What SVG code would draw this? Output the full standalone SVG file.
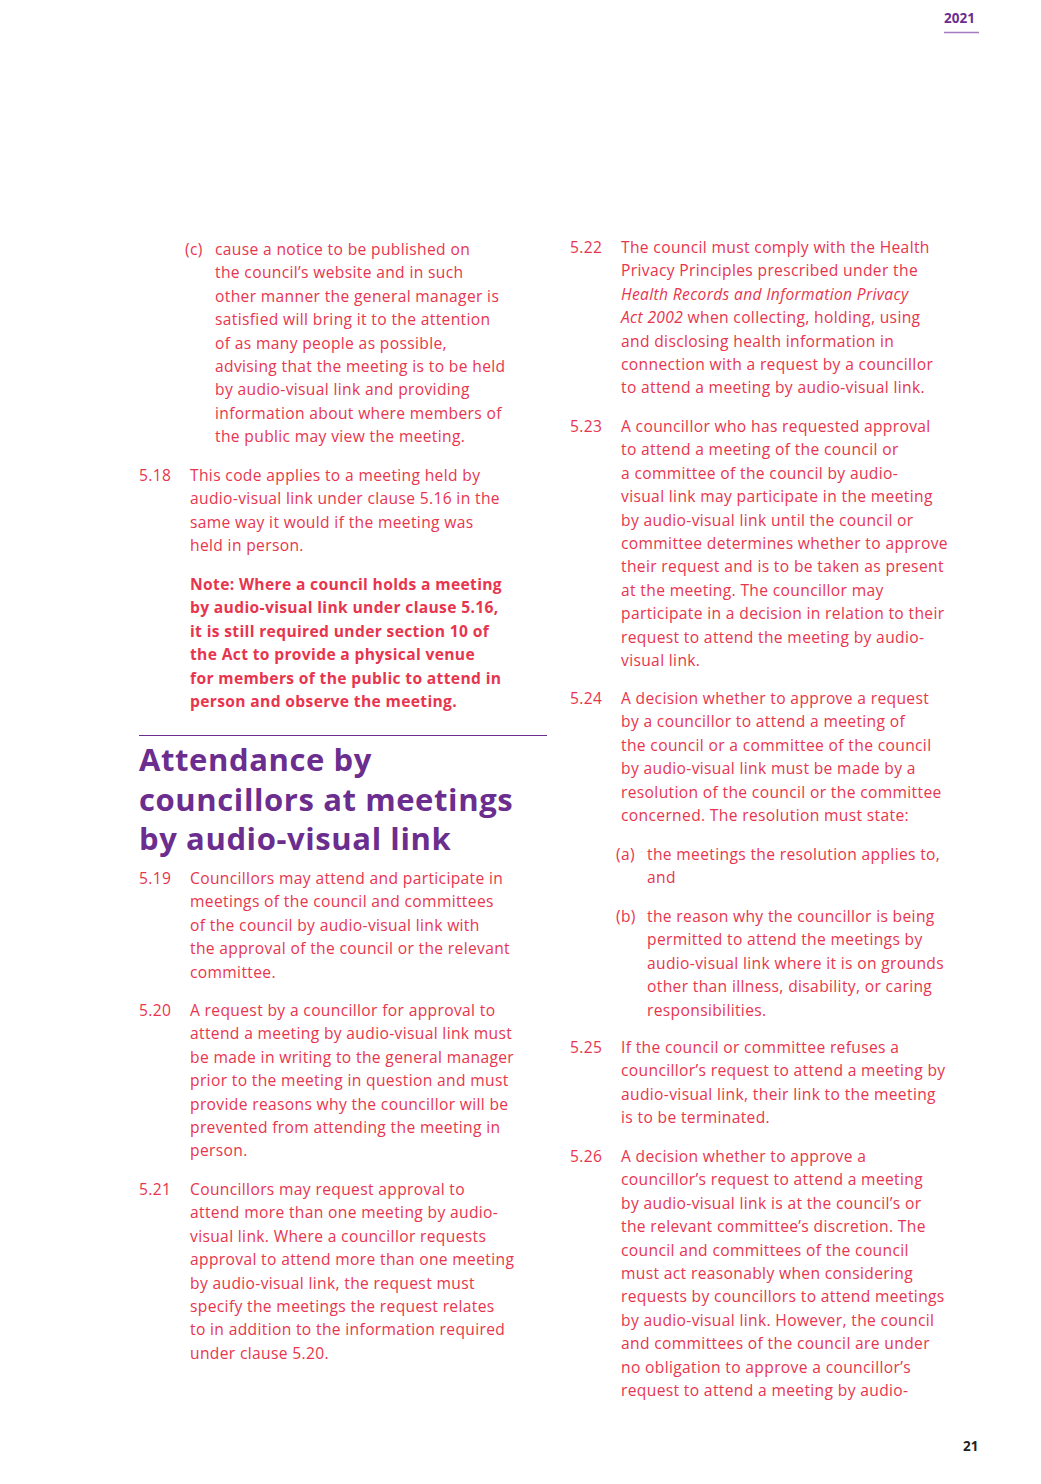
<svg xmlns="http://www.w3.org/2000/svg" width="1041" height="1484" viewBox="0 0 1041 1484">
<style>
.b{font-family:"Open Sans","Liberation Sans",sans-serif;font-size:15.6px;fill:#e8354e;letter-spacing:0.35px}
.n{font-weight:bold}
.h{font-family:"Open Sans","Liberation Sans",sans-serif;font-size:31px;font-weight:bold;fill:#6b2e8f;letter-spacing:0.6px}
</style>
<rect width="1041" height="1484" fill="#fff"/>
<g id="header">
<text x="944" y="23" font-family="Open Sans, Liberation Sans, sans-serif" font-size="13.5" font-weight="bold" fill="#6b2e8f">2021</text>
<line x1="944" y1="32.5" x2="979" y2="32.5" stroke="#a37cc0" stroke-width="1.5"/>
</g>
<g id="left" class="b">
<text class="b" x="185" y="255">(c)</text>
<text class="b"><tspan x="215" y="255">cause a notice to be published on</tspan><tspan x="215" dy="23.4">the council’s website and in such</tspan><tspan x="215" dy="23.4">other manner the general manager is</tspan><tspan x="215" dy="23.4">satisfied will bring it to the attention</tspan><tspan x="215" dy="23.4">of as many people as possible,</tspan><tspan x="215" dy="23.4">advising that the meeting is to be held</tspan><tspan x="215" dy="23.4">by audio-visual link and providing</tspan><tspan x="215" dy="23.4">information about where members of</tspan><tspan x="215" dy="23.4">the public may view the meeting.</tspan></text>
<text class="b" x="139" y="481">5.18</text>
<text class="b"><tspan x="190" y="481">This code applies to a meeting held by</tspan><tspan x="190" dy="23.4">audio-visual link under clause 5.16 in the</tspan><tspan x="190" dy="23.4">same way it would if the meeting was</tspan><tspan x="190" dy="23.4">held in person.</tspan></text>
<text class="b n"><tspan x="190" y="590">Note: Where a council holds a meeting</tspan><tspan x="190" dy="23.4">by audio-visual link under clause 5.16,</tspan><tspan x="190" dy="23.4">it is still required under section 10 of</tspan><tspan x="190" dy="23.4">the Act to provide a physical venue</tspan><tspan x="190" dy="23.4">for members of the public to attend in</tspan><tspan x="190" dy="23.4">person and observe the meeting.</tspan></text>
<line x1="139" y1="735.5" x2="547" y2="735.5" stroke="#6b2e8f" stroke-width="1.2"/>
<text class="h"><tspan x="139" y="771">Attendance by</tspan><tspan x="139" dy="39.5">councillors at meetings</tspan><tspan x="139" dy="39.5">by audio-visual link</tspan></text>
<text class="b" x="139" y="884">5.19</text>
<text class="b"><tspan x="190" y="884">Councillors may attend and participate in</tspan><tspan x="190" dy="23.4">meetings of the council and committees</tspan><tspan x="190" dy="23.4">of the council by audio-visual link with</tspan><tspan x="190" dy="23.4">the approval of the council or the relevant</tspan><tspan x="190" dy="23.4">committee.</tspan></text>
<text class="b" x="139" y="1016">5.20</text>
<text class="b"><tspan x="190" y="1016">A request by a councillor for approval to</tspan><tspan x="190" dy="23.4">attend a meeting by audio-visual link must</tspan><tspan x="190" dy="23.4">be made in writing to the general manager</tspan><tspan x="190" dy="23.4">prior to the meeting in question and must</tspan><tspan x="190" dy="23.4">provide reasons why the councillor will be</tspan><tspan x="190" dy="23.4">prevented from attending the meeting in</tspan><tspan x="190" dy="23.4">person.</tspan></text>
<text class="b" x="139" y="1195">5.21</text>
<text class="b"><tspan x="190" y="1195">Councillors may request approval to</tspan><tspan x="190" dy="23.4">attend more than one meeting by audio-</tspan><tspan x="190" dy="23.4">visual link. Where a councillor requests</tspan><tspan x="190" dy="23.4">approval to attend more than one meeting</tspan><tspan x="190" dy="23.4">by audio-visual link, the request must</tspan><tspan x="190" dy="23.4">specify the meetings the request relates</tspan><tspan x="190" dy="23.4">to in addition to the information required</tspan><tspan x="190" dy="23.4">under clause 5.20.</tspan></text>
</g>
<g id="right">
<text class="b" x="570" y="253">5.22</text>
<text class="b"><tspan x="621" y="253">The council must comply with the Health</tspan><tspan x="621" dy="23.4">Privacy Principles prescribed under the</tspan><tspan x="621" dy="23.4" font-style="italic">Health Records and Information Privacy</tspan><tspan x="621" dy="23.4"><tspan font-style="italic">Act 2002</tspan> when collecting, holding, using</tspan><tspan x="621" dy="23.4">and disclosing health information in</tspan><tspan x="621" dy="23.4">connection with a request by a councillor</tspan><tspan x="621" dy="23.4">to attend a meeting by audio-visual link.</tspan></text>
<text class="b" x="570" y="432">5.23</text>
<text class="b"><tspan x="621" y="432">A councillor who has requested approval</tspan><tspan x="621" dy="23.4">to attend a meeting of the council or</tspan><tspan x="621" dy="23.4">a committee of the council by audio-</tspan><tspan x="621" dy="23.4">visual link may participate in the meeting</tspan><tspan x="621" dy="23.4">by audio-visual link until the council or</tspan><tspan x="621" dy="23.4">committee determines whether to approve</tspan><tspan x="621" dy="23.4">their request and is to be taken as present</tspan><tspan x="621" dy="23.4">at the meeting. The councillor may</tspan><tspan x="621" dy="23.4">participate in a decision in relation to their</tspan><tspan x="621" dy="23.4">request to attend the meeting by audio-</tspan><tspan x="621" dy="23.4">visual link.</tspan></text>
<text class="b" x="570" y="704">5.24</text>
<text class="b"><tspan x="621" y="704">A decision whether to approve a request</tspan><tspan x="621" dy="23.4">by a councillor to attend a meeting of</tspan><tspan x="621" dy="23.4">the council or a committee of the council</tspan><tspan x="621" dy="23.4">by audio-visual link must be made by a</tspan><tspan x="621" dy="23.4">resolution of the council or the committee</tspan><tspan x="621" dy="23.4">concerned. The resolution must state:</tspan></text>
<text class="b" x="616" y="860">(a)</text>
<text class="b"><tspan x="647" y="860">the meetings the resolution applies to,</tspan><tspan x="647" dy="23.4">and</tspan></text>
<text class="b" x="616" y="922">(b)</text>
<text class="b"><tspan x="647" y="922">the reason why the councillor is being</tspan><tspan x="647" dy="23.4">permitted to attend the meetings by</tspan><tspan x="647" dy="23.4">audio-visual link where it is on grounds</tspan><tspan x="647" dy="23.4">other than illness, disability, or caring</tspan><tspan x="647" dy="23.4">responsibilities.</tspan></text>
<text class="b" x="570" y="1053">5.25</text>
<text class="b"><tspan x="621" y="1053">If the council or committee refuses a</tspan><tspan x="621" dy="23.4">councillor’s request to attend a meeting by</tspan><tspan x="621" dy="23.4">audio-visual link, their link to the meeting</tspan><tspan x="621" dy="23.4">is to be terminated.</tspan></text>
<text class="b" x="570" y="1162">5.26</text>
<text class="b"><tspan x="621" y="1162">A decision whether to approve a</tspan><tspan x="621" dy="23.4">councillor’s request to attend a meeting</tspan><tspan x="621" dy="23.4">by audio-visual link is at the council’s or</tspan><tspan x="621" dy="23.4">the relevant committee’s discretion. The</tspan><tspan x="621" dy="23.4">council and committees of the council</tspan><tspan x="621" dy="23.4">must act reasonably when considering</tspan><tspan x="621" dy="23.4">requests by councillors to attend meetings</tspan><tspan x="621" dy="23.4">by audio-visual link. However, the council</tspan><tspan x="621" dy="23.4">and committees of the council are under</tspan><tspan x="621" dy="23.4">no obligation to approve a councillor’s</tspan><tspan x="621" dy="23.4">request to attend a meeting by audio-</tspan></text>
</g>
<g id="footer">
<text x="963" y="1451" font-family="Open Sans, Liberation Sans, sans-serif" font-size="13.5" font-weight="bold" fill="#222">21</text>
</g>
</svg>
